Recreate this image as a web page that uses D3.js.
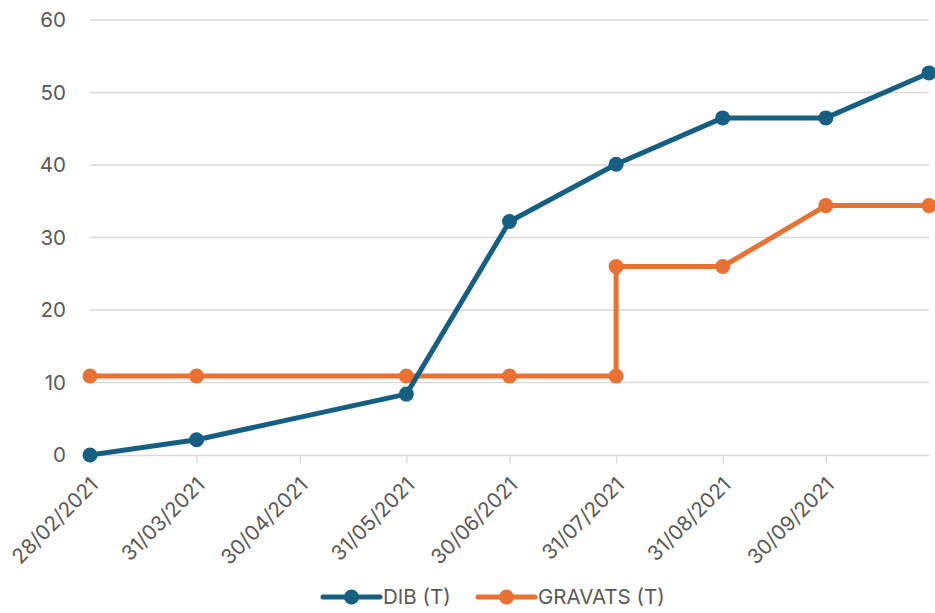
<!DOCTYPE html>
<html>
<head>
<meta charset="utf-8">
<script src="https://cdn.jsdelivr.net/npm/d3@7"></script>
<style>
  html, body { margin: 0; padding: 0; background: #fff; }
  svg { display: block; }
  text { font-family: Inter, "Open Sans", sans-serif; fill: #595959; }
</style>
</head>
<body>
<svg id="chart" width="935" height="613"></svg>
<script>
// Tonnage cumulé par date de relevé
const dibDates = ["2021-02-28", "2021-03-31", "2021-05-31", "2021-06-30", "2021-07-31", "2021-08-31", "2021-09-30", "2021-10-30"];
const dibValues = [0, 2.1, 8.4, 32.2, 40.1, 46.5, 46.5, 52.7];

const gravatsDates = ["2021-02-28", "2021-03-31", "2021-05-31", "2021-06-30", "2021-07-31", "2021-07-31", "2021-08-31", "2021-09-30", "2021-10-30"];
const gravatsValues = [10.9, 10.9, 10.9, 10.9, 10.9, 26.0, 26.0, 34.4, 34.4];

const xTickDates = ["2021-02-28", "2021-03-31", "2021-04-30", "2021-05-31", "2021-06-30", "2021-07-31", "2021-08-31", "2021-09-30"];
const yTicks = [0, 10, 20, 30, 40, 50, 60];

const seriesNames = ["DIB (T)", "GRAVATS (T)"];
const seriesColors = ["#156082", "#E97132"];

const parse = d3.utcParse("%Y-%m-%d");
const fmt = d3.utcFormat("%d/%m/%Y");

const svg = d3.select("#chart");
const margin = { left: 90, right: 6, top: 20, bottom: 158 };
const W = 935, H = 613;
const fontSize = "20.5px";

const x = d3.scaleUtc()
  .domain([parse("2021-02-28"), parse("2021-10-30")])
  .range([margin.left, W - margin.right]);
const y = d3.scaleLinear()
  .domain([0, 60])
  .range([H - margin.bottom, margin.top]);

// horizontal gridlines
svg.append("g")
  .selectAll("line")
  .data(yTicks.filter(v => v > 0))
  .join("line")
  .attr("x1", x.range()[0]).attr("x2", x.range()[1])
  .attr("y1", d => y(d)).attr("y2", d => y(d))
  .attr("stroke", "#d9d9d9").attr("stroke-width", 1.3);

// y axis labels
const yAxis = d3.axisLeft(y).tickValues(yTicks).tickSize(0).tickPadding(24);
svg.append("g")
  .attr("transform", `translate(${margin.left},0)`)
  .call(yAxis)
  .call(g => g.select(".domain").remove())
  .call(g => g.selectAll("text").style("font-size", fontSize).attr("fill", "#595959"));

// x axis
const xAxis = d3.axisBottom(x)
  .tickValues(xTickDates.map(parse))
  .tickFormat(fmt)
  .tickSize(8)
  .tickSizeOuter(0);
const gx = svg.append("g")
  .attr("transform", `translate(0,${y(0)})`)
  .call(xAxis);
gx.select(".domain").attr("stroke", "#d9d9d9").attr("stroke-width", 1.3);
gx.selectAll(".tick line").attr("stroke", "#d9d9d9").attr("stroke-width", 1.3);
gx.selectAll(".tick text")
  .style("font-size", fontSize)
  .attr("fill", "#595959")
  .attr("text-anchor", "end")
  .attr("dy", null)
  .attr("y", 0)
  .attr("transform", "translate(9,31) rotate(-45)");

// series lines and markers
const series = [
  { name: seriesNames[0], color: seriesColors[0], pts: dibDates.map((d, i) => ({ date: parse(d), v: dibValues[i] })) },
  { name: seriesNames[1], color: seriesColors[1], pts: gravatsDates.map((d, i) => ({ date: parse(d), v: gravatsValues[i] })) }
];

const line = d3.line().x(d => x(d.date)).y(d => y(d.v));

// draw orange first so the blue line sits above it
[series[1], series[0]].forEach(s => {
  const g = svg.append("g");
  g.append("path")
    .attr("d", line(s.pts))
    .attr("fill", "none")
    .attr("stroke", s.color)
    .attr("stroke-width", 5)
    .attr("stroke-linejoin", "round");
  g.selectAll("circle")
    .data(s.pts)
    .join("circle")
    .attr("cx", d => x(d.date))
    .attr("cy", d => y(d.v))
    .attr("r", 7.5)
    .attr("fill", s.color);
});

// legend
const legend = svg.append("g").attr("transform", `translate(0,597)`);
const legendItems = [{ x0: 323 }, { x0: 478 }];
series.forEach((s, i) => {
  const x0 = legendItems[i].x0;
  legend.append("line")
    .attr("x1", x0).attr("x2", x0 + 57)
    .attr("y1", 0).attr("y2", 0)
    .attr("stroke", s.color).attr("stroke-width", 5).attr("stroke-linecap", "round");
  legend.append("circle").attr("cx", x0 + 28.5).attr("cy", 0).attr("r", 7.5).attr("fill", s.color);
  legend.append("text")
    .attr("x", x0 + 60).attr("y", 0).attr("dy", "0.35em")
    .style("font-size", fontSize)
    .text(s.name);
});
</script>
</body>
</html>
